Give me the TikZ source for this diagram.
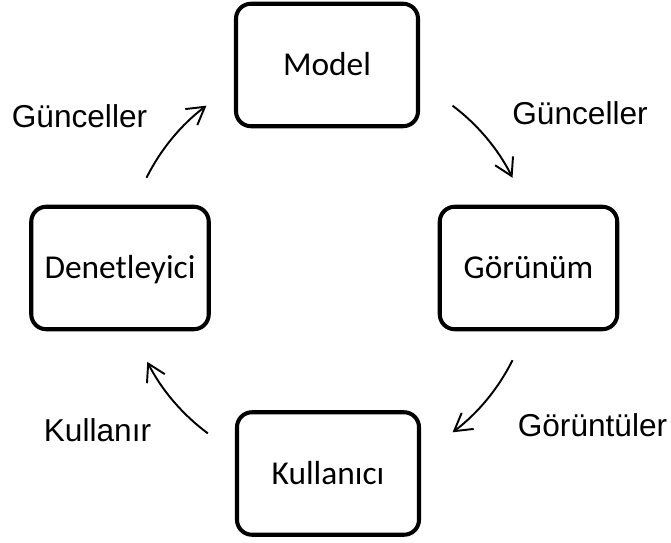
\documentclass[tikz,border=0pt]{standalone}
\usepackage{fontspec}
\setmainfont{Liberation Sans}
\newfontfamily\boxfont{Carlito}
\usetikzlibrary{arrows.meta}
\tikzset{
  box/.style={draw=black, line width=2.3pt, rounded corners=0.3cm,
    minimum width=3.55cm, minimum height=2.45cm,
    text height=12.2pt, text depth=0pt,
    font=\boxfont\fontsize{19pt}{23pt}\selectfont},
  wide/.style={minimum width=3.64cm},
  flow/.style={-{Straight Barb[length=3.4mm,width=4mm]}, line width=1.1pt},
  note/.style={anchor=base, font=\fontsize{18pt}{22pt}\selectfont}
}

\begin{document}
\begin{tikzpicture}
  \useasboundingbox (0,0) rectangle (13.42,10.86);

  % the four parts of the cycle
  \node[box,wide] (mod) at (6.54,9.56) {Model};
  \node[box] (gor) at (10.57,5.50) {Görünüm};
  \node[box,wide] (kul) at (6.56,1.39) {Kullanıcı};
  \node[box] (den) at (2.40,5.50) {Denetleyici};

  % arcs round the middle, clockwise
  \coordinate (hub) at (6.59,5.48);
  \draw[flow] ([shift={(153.5:4.09)}]hub) arc[start angle=153.5, end angle=127, radius=4.09];
  \draw[flow] ([shift={(53:4.09)}]hub) arc[start angle=53, end angle=26.5, radius=4.09];
  \draw[flow] ([shift={(-26.5:4.09)}]hub) arc[start angle=-26.5, end angle=-53, radius=4.09];
  \draw[flow] ([shift={(233.5:4.09)}]hub) arc[start angle=233.5, end angle=207, radius=4.09];

  % labels on the arrows
  \node[note] (upd1) at (1.59,8.30) {Günceller};
  \node[note] (upd2) at (11.60,8.36) {Günceller};
  \node[note] (show) at (11.85,2.13) {Görüntüler};
  \node[note] (use) at (1.95,2.02) {Kullanır};
\end{tikzpicture}
\end{document}
